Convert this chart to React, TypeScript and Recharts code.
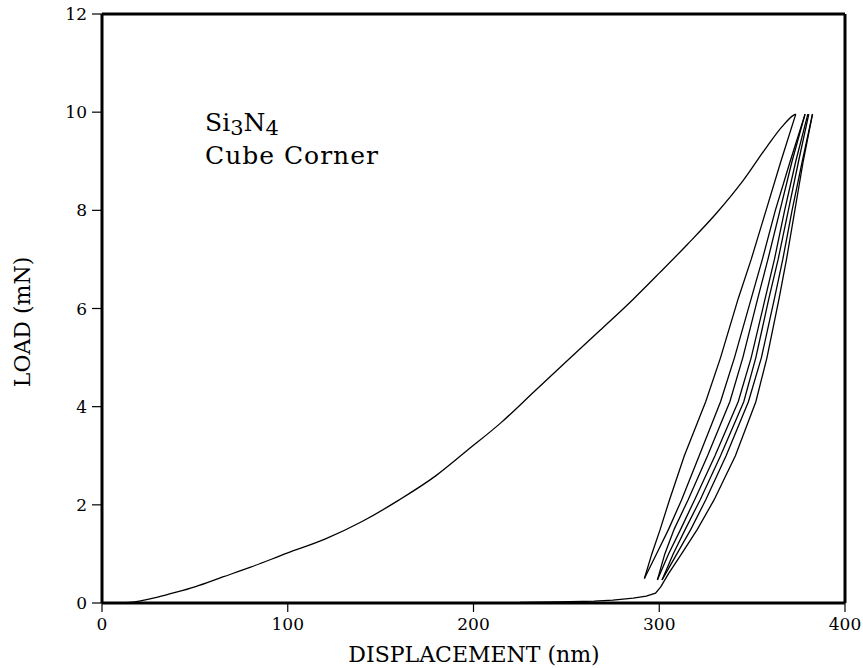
import { LineChart, Line, XAxis, YAxis, ReferenceLine, Customized } from 'recharts';

// Indentation record: displacement (nm) vs load (mN), [nm, mN] pairs per segment
const LOADING: [number, number][] = [
  [10, 0], [15, 0.01], [20, 0.04], [30, 0.12], [40, 0.22], [50, 0.33], [65, 0.53], [80, 0.73],
  [100, 1.02], [120, 1.3], [140, 1.66], [160, 2.1], [180, 2.6], [197, 3.12],
  [215, 3.68], [233, 4.32], [250, 4.92], [268, 5.55], [286, 6.19], [300, 6.72],
  [315, 7.3], [331, 7.95], [345, 8.6], [358, 9.3], [366, 9.7], [372, 9.93], [373.5, 9.96],
];

const UNLOAD_1: [number, number][] = [
  [373.5, 9.96], [365.5, 9], [357.5, 8], [349.5, 7], [342.5, 6.2], [333, 5], [325, 4.1],
  [313.5, 3], [305.5, 2.1], [300.5, 1.5], [296, 1.0], [292, 0.5],
];
const RELOAD_1: [number, number][] = [
  [292, 0.5], [298.5, 1.0], [305, 1.5], [312, 2.1], [321.5, 3], [333, 4.1], [340.5, 5],
  [349.5, 6.2], [355.5, 7], [362.5, 8], [370.5, 9], [378.5, 9.96],
];
const UNLOAD_2: [number, number][] = [
  [378.5, 9.96], [371.5, 9], [365, 8], [358.5, 7], [353, 6.2], [345, 5], [338, 4.1],
  [326, 3], [315.5, 2.1], [308, 1.5], [303, 1.0], [299, 0.47],
];
const RELOAD_2: [number, number][] = [
  [299, 0.47], [305, 1.0], [311.5, 1.5], [319, 2.1], [330, 3], [342.5, 4.1], [349.5, 5],
  [357, 6.2], [362, 7], [367.5, 8], [373.5, 9], [380, 9.96],
];
const UNLOAD_3: [number, number][] = [
  [380.5, 9.96], [375, 9], [369.5, 8], [364, 7], [359, 6.2], [352, 5], [345.5, 4.1],
  [333, 3], [322, 2.1], [314, 1.5], [307.5, 1.0], [301.5, 0.47],
];
const RELOAD_3: [number, number][] = [
  [301.5, 0.47], [309.5, 1.0], [317, 1.5], [325, 2.1], [336, 3], [348, 4.1], [355, 5],
  [362, 6.2], [366.5, 7], [371.5, 8], [377, 9], [382.5, 9.96],
];
const FINAL_UNLOAD: [number, number][] = [
  [382.5, 9.96], [377.5, 9], [373, 8], [368.5, 7], [364.5, 6.2], [358, 5], [352, 4.1],
  [341, 3], [329.5, 2.1], [320.5, 1.5], [312, 1.0], [305, 0.6], [300.8, 0.33],
  [298, 0.2], [293, 0.14], [286, 0.1], [275, 0.06], [265, 0.04], [245, 0.02], [225, 0.01],
];

const CYCLES = [UNLOAD_1, RELOAD_1, UNLOAD_2, RELOAD_2, UNLOAD_3, RELOAD_3, FINAL_UNLOAD];

const X_TICKS = [0, 100, 200, 300, 400];
const Y_TICKS = [0, 2, 4, 6, 8, 10, 12];

const FONT = '"DejaVu Serif", serif';

const toPoints = (seg: [number, number][]) => seg.map(([x, y]) => ({ x, y }));

// sample annotation plus both axis titles, placed in page pixels
function Annotations() {
  return (
    <g fontFamily={FONT} fill="#000">
      <text x={205} y={131} fontSize={25}>
        <tspan>Si</tspan>
        <tspan dy={4} fontSize={21}>3</tspan>
        <tspan dy={-4}>N</tspan>
        <tspan dy={4} fontSize={21}>4</tspan>
      </text>
      <text x={205} y={164} fontSize={25} letterSpacing={1}>Cube Corner</text>
      <text x={474} y={662} fontSize={22} textAnchor="middle">DISPLACEMENT (nm)</text>
      <text x={30} y={322} fontSize={22} textAnchor="middle" transform="rotate(-90 30 322)">LOAD (mN)</text>
    </g>
  );
}

export default function App() {
  return (
    <div style={{ position: 'absolute', left: 0, top: 0, background: '#fff' }}>
      <LineChart width={863} height={668} margin={{ top: 14, right: 18, bottom: 0, left: 0 }}>
        <XAxis
          type="number"
          dataKey="x"
          domain={[0, 400]}
          ticks={X_TICKS}
          height={65}
          tickSize={9}
          tickMargin={6}
          axisLine={{ stroke: '#000', strokeWidth: 3 }}
          tickLine={{ stroke: '#000', strokeWidth: 1.2 }}
          tick={{ fill: '#000', fontSize: 17, fontFamily: FONT }}
          allowDataOverflow
        />
        <YAxis
          type="number"
          domain={[0, 12]}
          ticks={Y_TICKS}
          width={102}
          tickSize={10}
          tickMargin={5}
          axisLine={{ stroke: '#000', strokeWidth: 3 }}
          tickLine={{ stroke: '#000', strokeWidth: 1.2 }}
          tick={{ fill: '#000', fontSize: 17, fontFamily: FONT }}
          allowDataOverflow
        />
        <ReferenceLine y={12} stroke="#000" strokeWidth={3} />
        <ReferenceLine x={400} stroke="#000" strokeWidth={3} />
        {/* first loading, smoothed */}
        <Line
          data={toPoints(LOADING)}
          dataKey="y"
          type="monotone"
          stroke="#000"
          strokeWidth={1.3}
          dot={false}
          activeDot={false}
          isAnimationActive={false}
        />
        {/* partial unload / reload cycles */}
        {CYCLES.map((seg, i) => (
          <Line
            key={i}
            data={toPoints(seg)}
            dataKey="y"
            type="linear"
            stroke="#000"
            strokeWidth={1.3}
            dot={false}
            activeDot={false}
            isAnimationActive={false}
          />
        ))}
        <Customized component={Annotations} />
      </LineChart>
    </div>
  );
}
